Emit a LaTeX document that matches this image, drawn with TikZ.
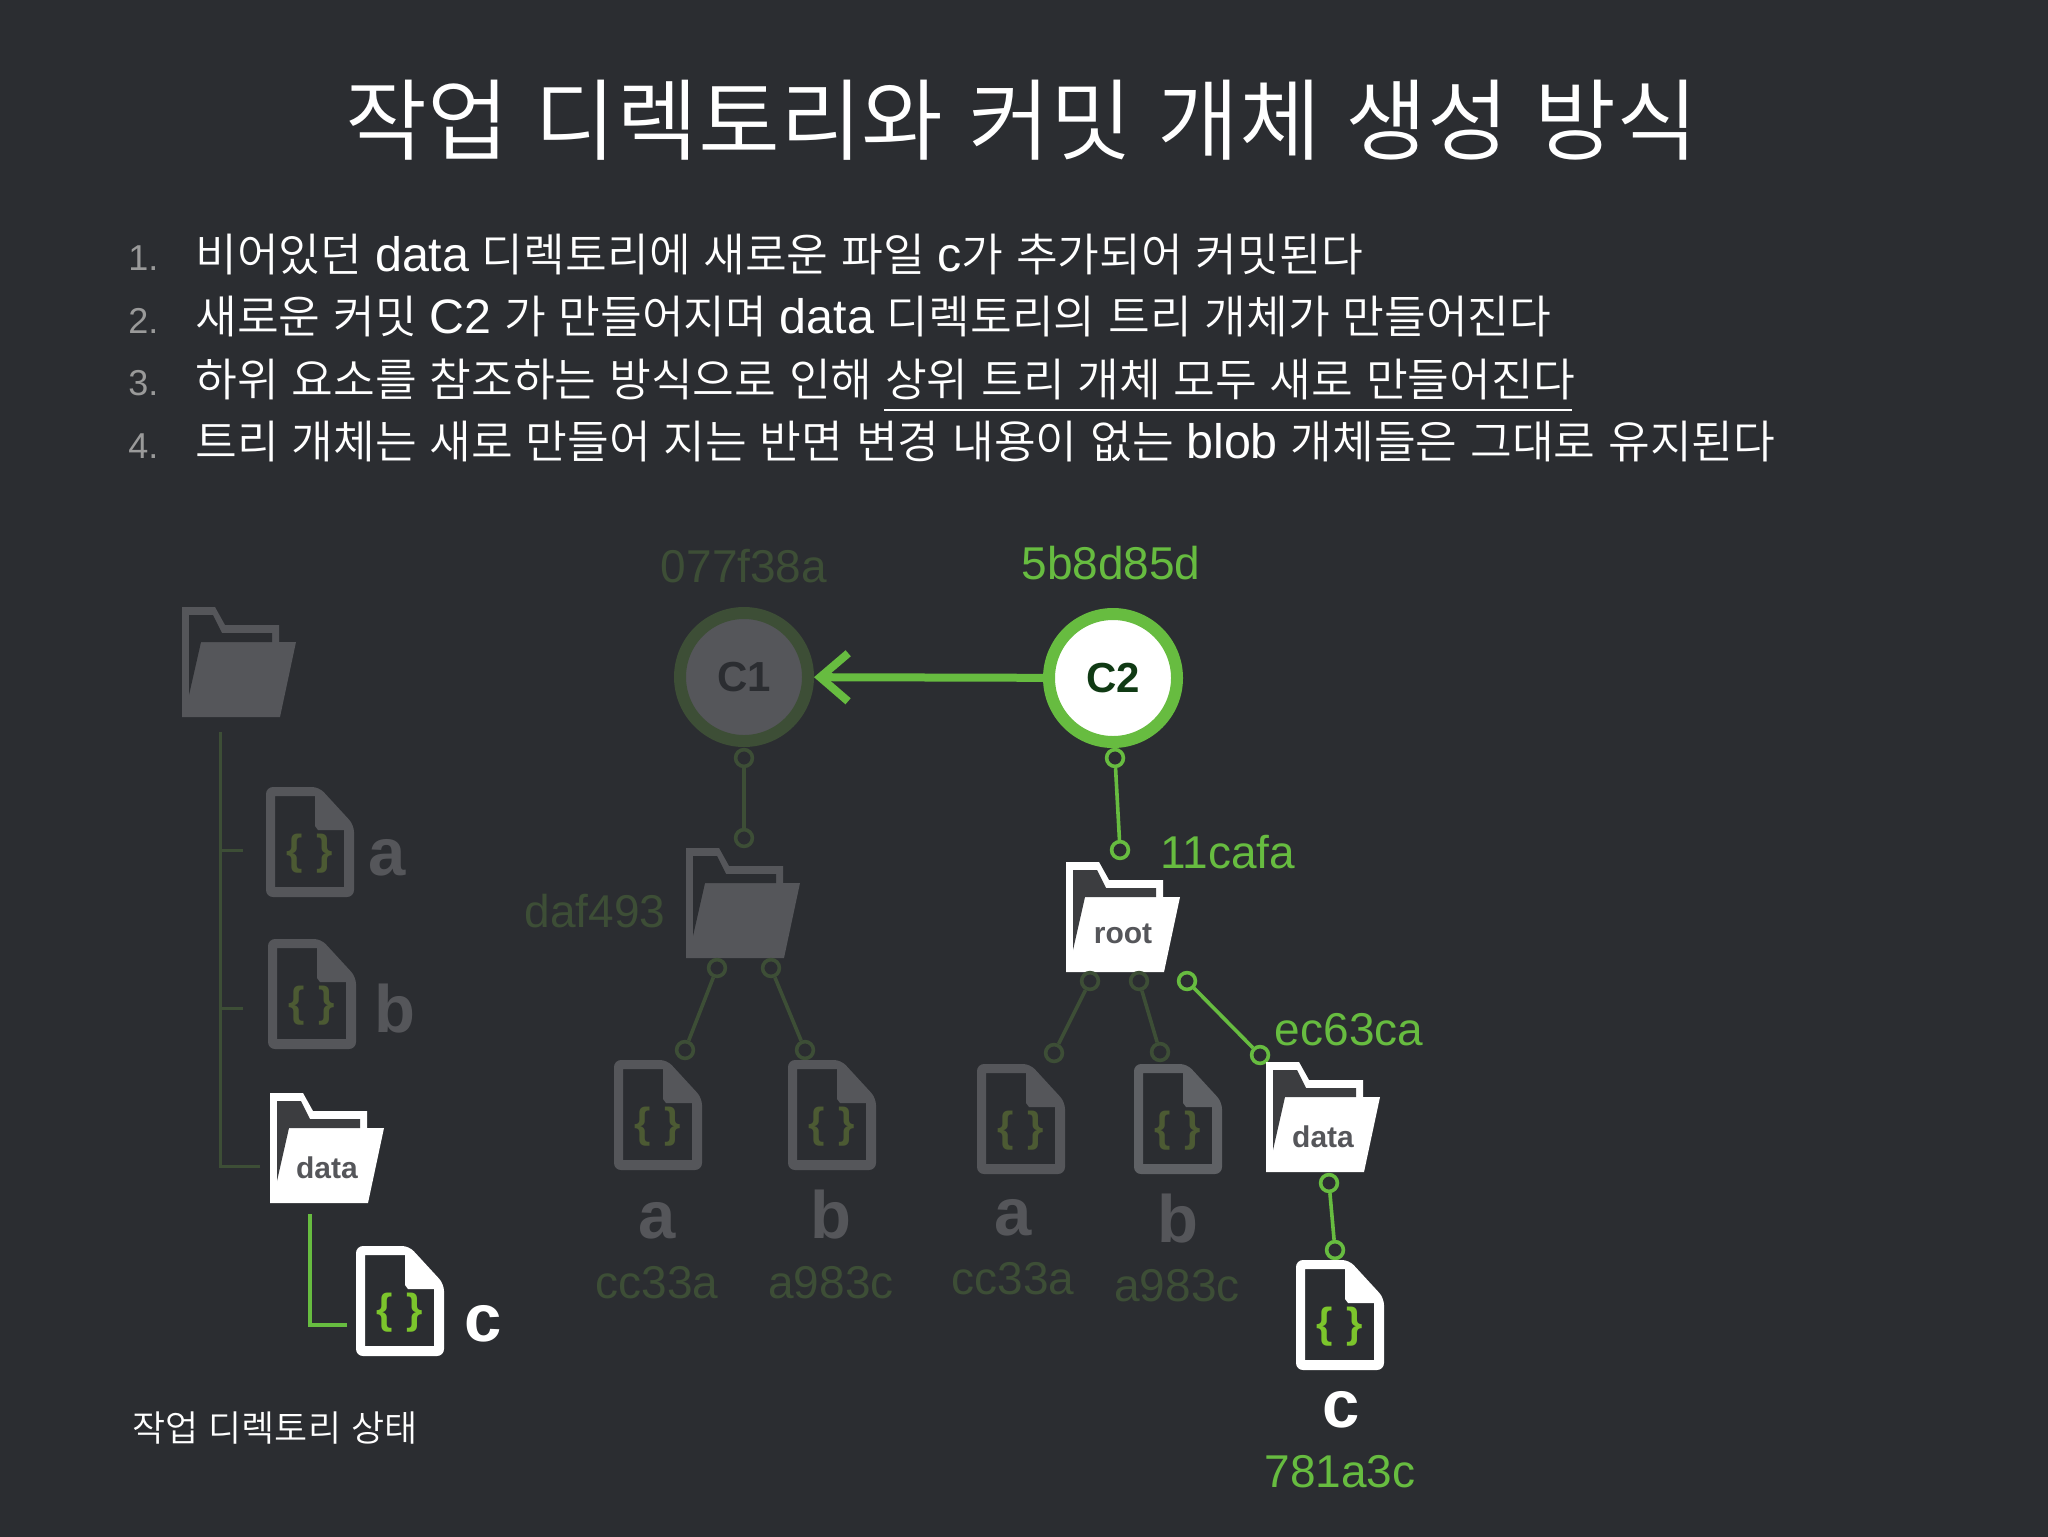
\documentclass[tikz,border=0pt]{standalone}
\usepackage{fontspec}
\setmainfont{Liberation Sans}
\newfontfamily\krt[WordSpace=1.25]{Noto Sans CJK KR DemiLight}
\newfontfamily\krd[WordSpace=1.25]{Noto Sans CJK KR DemiLight}
\newcommand{\lat}[1]{{\fontspec{Liberation Sans}\fontsize{24.2}{24.2}\selectfont #1}}
\usetikzlibrary{arrows.meta}
\definecolor{bgc}{HTML}{2B2D31}
\definecolor{grn}{HTML}{67BC40}
\definecolor{dimg}{HTML}{3D4E36}
\definecolor{gry}{HTML}{55565A}
\definecolor{gryb}{HTML}{5F6165}
\definecolor{brc}{HTML}{7CC52C}
\definecolor{dimb}{HTML}{4C5A33}
\definecolor{dark}{HTML}{3C3D40}
\definecolor{numc}{HTML}{9A9A9A}
\definecolor{cgreen}{HTML}{103A14}
\tikzset{
  title/.style={font=\krt\fontsize{44.5}{44.5}\selectfont,text=white,inner sep=0pt},
  listtext/.style={font=\krd\fontsize{22.7}{22.7}\selectfont,text=white,anchor=base west,inner sep=0pt},
  listnum/.style={font=\fontsize{18}{18}\selectfont,text=numc,anchor=base west,inner sep=0pt},
  hash/.style={font=\fontsize{23}{23}\selectfont,inner sep=0pt},
  greenhash/.style={hash,text=grn},
  dimhash/.style={hash,text=dimg},
  biglabel/.style={font=\bfseries\fontsize{33.5}{33.5}\selectfont,inner sep=0pt,anchor=base},
  folderlabel/.style={font=\bfseries\fontsize{15}{15}\selectfont,text=gry,inner sep=0pt,anchor=base},
  commit/.style={circle,line width=6pt,minimum size=64pt,inner sep=0pt,font=\bfseries\fontsize{21}{21}\selectfont},
  port/.style={circle,draw,fill=none,line width=1.8pt,minimum size=8.4pt,inner sep=0pt},
  gport/.style={port,draw=grn},
  dport/.style={port,draw=dimg},
  glink/.style={draw=grn,line width=1.8pt},
  dlink/.style={draw=dimg,line width=1.8pt},
  bracetext/.style={font=\bfseries\fontsize{21}{21}\selectfont,inner sep=0pt},
}
% #1 x, #2 y, #3 body colour, #4 inner colour, #5 node name, #6 label, #7 label baseline
\newcommand{\folderat}[7]{%
  \begin{scope}[shift={(#1,#2)}]
    \fill[#3] (0,0) -- (33,0) -- (43,18) -- (97,18) -- (97,35) -- (114,35) -- (98,110) -- (0,110) -- cycle;
    \fill[#4] (7,8) -- (31,8) -- (40,26) -- (90,26) -- (90,35) -- (19,35) -- (7,88) -- cycle;
    \node[folderlabel] (#5) at (57,#7) {#6};
  \end{scope}}
% #1 x, #2 y, #3 body colour, #4 brace colour, #5 node name
\newcommand{\fileat}[5]{%
  \begin{scope}[shift={(#1,#2)}]
    \fill[#3,even odd rule,rounded corners=3.5pt] (0,0) -- (53,0) -- (88,38) -- (88,110) -- (0,110) -- cycle
      [sharp corners] (9,9) -- (49,9) -- (49,39) -- (52,43) -- (78,43) -- (78,100) -- (9,100) -- cycle;
    \node[bracetext,text=#4] (#5) at (43.5,67) {\{\hspace{7pt}\}};
  \end{scope}}
\begin{document}
\begin{tikzpicture}[x=0.5pt,y=-0.5pt]
\useasboundingbox (0,0) rectangle (2048,1536);
\fill[bgc] (-6,-6) rectangle (2054,1542);

% title and list
\node[title] (ttl) at (1022,120) {작업 디렉토리와 커밋 개체 생성 방식};
\node[listnum] (n1) at (128,270) {1.};
\node[listnum] (n2) at (128,333) {2.};
\node[listnum] (n3) at (128,395) {3.};
\node[listnum] (n4) at (128,458) {4.};
\node[listtext] (l1) at (195,271) {비어있던 \lat{data} 디렉토리에 새로운 파일 \lat{c}가 추가되어 커밋된다};
\node[listtext] (l2) at (195,333) {새로운 커밋 \lat{C2} 가 만들어지며 \lat{data} 디렉토리의 트리 개체가 만들어진다};
\node[listtext] (l3) at (195,396) {하위 요소를 참조하는 방식으로 인해 상위 트리 개체 모두 새로 만들어진다};
\node[listtext] (l4) at (195,458) {트리 개체는 새로 만들어 지는 반면 변경 내용이 없는 \lat{blob} 개체들은 그대로 유지된다};
\coordinate (ula) at (884,410);
\coordinate (ulb) at (1572,410);
\draw[white,line width=0.8pt] (ula) -- (ulb);

% left tree
\folderat{182}{607}{gry}{bgc}{lroot}{}{85}
\fileat{266}{787}{gry}{dimb}{lfa}
\fileat{268}{939}{gry}{dimb}{lfb}
\folderat{270}{1093}{white}{dark}{ldata}{data}{85}
\fileat{356}{1246}{white}{brc}{lfc}
\node[biglabel,text=gry] (lla) at (387,875) {a};
\node[biglabel,text=gry] (llb) at (395,1032) {b};
\node[biglabel,text=white] (llc) at (483,1341) {c};
\coordinate (t0) at (220,732);
\coordinate (t1) at (220,850);
\coordinate (t1e) at (243,850);
\coordinate (t2) at (220,1008);
\coordinate (t2e) at (243,1008);
\coordinate (t3) at (220,1166);
\coordinate (t3e) at (260,1166);
\draw[dimg,line width=1.5pt] (t0) -- (t3) -- (t3e);
\draw[dimg,line width=1.5pt] (t1) -- (t1e);
\draw[dimg,line width=1.5pt] (t2) -- (t2e);
\coordinate (u0) at (310,1214);
\coordinate (u1) at (310,1325);
\coordinate (u2) at (347,1325);
\draw[grn,line width=2pt] (u0) -- (u1) -- (u2);
\node[font=\krd\fontsize{18}{18}\selectfont,text=white,inner sep=0pt] (cap) at (275,1428) {작업 디렉토리 상태};

% commits
\node[commit,draw=dimg,fill=gry,text=bgc] (c1) at (744,677) {C1};
\node[commit,draw=grn,fill=white,text=cgreen] (c2) at (1113,678) {C2};
\draw[grn,line width=4pt,-{Straight Barb[length=14pt,width=24pt,line width=4pt]}] (c2) -- (c1);
\node[dimhash] (h1) at (744,566) {077f38a};
\node[greenhash] (h2) at (1111,563) {5b8d85d};

% C1 tree
\node[dport] (p1) at (744,758) {};
\node[dport] (p2) at (744,838) {};
\draw[dlink] (p1) -- (p2);
\folderat{686}{848}{gry}{bgc}{fdaf}{}{85}
\node[dimhash] (hdaf) at (595,911) {daf493};
\node[dport] (p3) at (717,968) {};
\node[dport] (p4) at (771,968) {};
\node[dport] (p5) at (685,1050) {};
\node[dport] (p6) at (805,1050) {};
\draw[dlink] (p3) -- (p5);
\draw[dlink] (p4) -- (p6);
\fileat{614}{1060}{gry}{dimb}{fa1}
\fileat{788}{1060}{gry}{dimb}{fb1}
\node[biglabel,text=gry] (la1) at (657,1238) {a};
\node[biglabel,text=gry] (lb1) at (831,1238) {b};
\node[dimhash] (ha1) at (657,1283) {cc33a};
\node[dimhash] (hb1) at (831,1283) {a983c};

% C2 tree
\node[gport] (q1) at (1115,758) {};
\node[gport] (q2) at (1120,850) {};
\draw[glink] (q1) -- (q2);
\node[greenhash] (hroot) at (1228,852) {11cafa};
\folderat{1066}{862}{white}{dark}{froot}{root}{81}
\node[dport] (q3) at (1090,981) {};
\node[dport] (q4) at (1139,981) {};
\node[gport] (q5) at (1187,981) {};
\node[dport] (q6) at (1054,1053) {};
\node[dport] (q7) at (1160,1052) {};
\node[gport] (q8) at (1260,1055) {};
\draw[dlink] (q3) -- (q6);
\draw[dlink] (q4) -- (q7);
\draw[glink] (q5) -- (q8);
\node[greenhash] (hdata) at (1349,1030) {ec63ca};
\fileat{977}{1064}{gry}{dimb}{fa2}
\fileat{1134}{1064}{gryb}{dimb}{fb2}
\node[biglabel,text=gry] (la2) at (1013,1235) {a};
\node[biglabel,text=gry] (lb2) at (1178,1242) {b};
\node[dimhash] (ha2) at (1013,1279) {cc33a};
\node[dimhash] (hb2) at (1177,1286) {a983c};
\folderat{1266}{1062}{white}{dark}{fdata}{data}{85}
\node[gport] (q9) at (1329,1183) {};
\node[gport] (q10) at (1335,1250) {};
\draw[glink] (q9) -- (q10);
\fileat{1296}{1260}{white}{brc}{fc2}
\node[biglabel,text=white] (lc2) at (1341,1427) {c};
\node[greenhash] (hc2) at (1340,1472) {781a3c};
\end{tikzpicture}
\end{document}
